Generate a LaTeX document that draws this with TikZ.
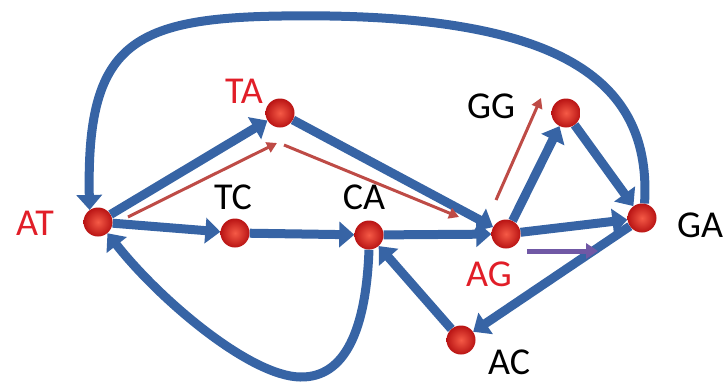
\documentclass[tikz,border=0pt]{standalone}
\usepackage{fontspec}
\setmainfont{Carlito}
\usetikzlibrary{arrows.meta}
\definecolor{edgeblue}{RGB}{55,100,165}
\definecolor{lblred}{RGB}{225,30,40}
\definecolor{hintred}{RGB}{190,75,70}
\definecolor{hintpurple}{RGB}{112,88,165}
\definecolor{ballin}{RGB}{245,90,70}
\definecolor{ballout}{RGB}{185,20,20}
\pgfdeclarelayer{bg}
\pgfsetlayers{bg,main}
\begin{document}
\begin{tikzpicture}[x=1pt,y=-1pt,
  ball/.style={circle, minimum size=29pt, inner sep=0pt, shading=radial, inner color=ballin, outer color=ballout},
  lbl/.style={font=\fontsize{38}{40}\selectfont, inner sep=0pt, text=black},
  redlbl/.style={lbl, text=lblred},
  bluearrow/.style={draw=edgeblue, line width=9pt, -{Triangle[length=15pt,width=25pt]}},
  hintarrow/.style={draw=hintred, line width=3pt, -{Triangle[length=10pt,width=11pt]}},
  purplearrow/.style={draw=hintpurple, line width=5pt, -{Triangle[length=12pt,width=15pt]}}
]
\path[use as bounding box] (0,0) rectangle (728,383);

% vertices
\node[ball] (AT) at (98,222) {};
\node[ball] (TC) at (235,233) {};
\node[ball] (CA) at (369,235) {};
\node[ball] (TA) at (280,113) {};
\node[ball] (GG) at (566,113) {};
\node[ball] (AG) at (506,234) {};
\node[ball] (GA) at (642,218) {};
\node[ball] (AC) at (461,340) {};

% labels
\node[redlbl] (lAT) at (35,223.5) {AT};
\node[redlbl] (lTA) at (244,91) {TA};
\node[lbl] (lTC) at (233,197) {TC};
\node[lbl] (lCA) at (364,197) {CA};
\node[lbl] (lGG) at (491,106.5) {GG};
\node[redlbl] (lAG) at (489,274) {AG};
\node[lbl] (lGA) at (700,225.5) {GA};
\node[lbl] (lAC) at (509,362) {AC};

% free ends of hint arrows
\coordinate (h1s) at (128,217);
\coordinate (h1e) at (277,143);
\coordinate (h2s) at (284,145);
\coordinate (h2e) at (459,217);
\coordinate (h3s) at (496,200);
\coordinate (h3e) at (541,98);
\coordinate (p1s) at (527,251);
\coordinate (p1e) at (598,251);

\begin{pgfonlayer}{bg}
\draw[bluearrow] (AT) -- (TA);
\draw[bluearrow] (AT) -- (TC);
\draw[bluearrow] (TC) -- (CA);
\draw[bluearrow] (TA) -- (AG);
\draw[bluearrow] (CA) -- (AG);
\draw[bluearrow] (AG) -- (GG);
\draw[bluearrow] (GG) -- (GA);
\draw[bluearrow] (AG) -- (GA);
\draw[bluearrow] (GA) -- (AC);
\draw[bluearrow] (AC) -- (CA);
% big loop over the top
\draw[bluearrow] (GA.80) .. controls (652,80) and (560,20) .. (330,16)
   .. controls (140,14) and (86,30) .. (AT.125);
% loop below
\draw[bluearrow] (CA.south) .. controls (366,330) and (345,378) .. (300,377)
   .. controls (250,376) and (160,300) .. (AT.-50);
\end{pgfonlayer}

\draw[hintarrow] (h1s) -- (h1e);
\draw[hintarrow] (h2s) -- (h2e);
\draw[hintarrow] (h3s) -- (h3e);
\draw[purplearrow] (p1s) -- (p1e);
\end{tikzpicture}
\end{document}
